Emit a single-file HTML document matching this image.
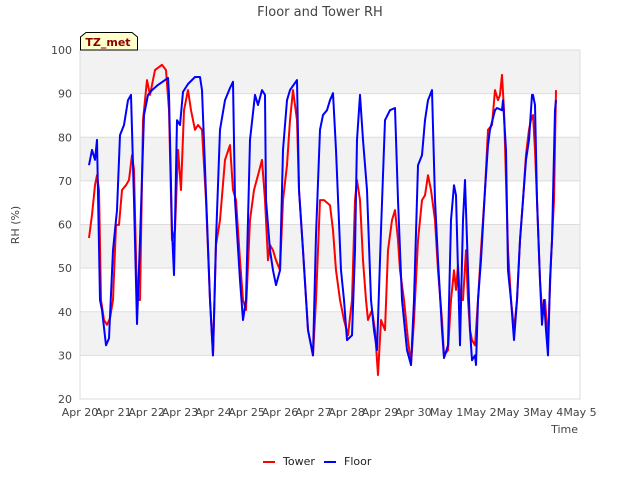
<!DOCTYPE html>
<html><head><meta charset="utf-8">
<style>
body{margin:0;background:#fff;}
svg{display:block;font-family:"DejaVu Sans","Liberation Sans",sans-serif;}
</style></head>
<body>
<svg id="chart" width="640" height="480" viewBox="0 0 640 480">
  <text x="320" y="16" text-anchor="middle" font-size="13" fill="#444">Floor and Tower RH</text>
  <g id="bands"></g>
  <rect x="80" y="50" width="500" height="349" fill="none" stroke="#ddd"/>
  <g id="yaxis"></g>
  <g id="xaxis"></g>
  <g id="series"></g>
  <text transform="translate(19,225) rotate(-90)" text-anchor="middle" font-size="11" fill="#444">RH (%)</text>
  <text x="578" y="433" text-anchor="end" font-size="11" fill="#444">Time</text>
  <g>
    <path d="M80.5,50 L80.5,37 L86,32.5 L132,32.5 L137.5,37 L137.5,50 Z" fill="#ffffcc" stroke="#000" stroke-width="1"/>
    <text x="108" y="46" text-anchor="middle" font-size="11" font-weight="bold" fill="#8b0000">TZ_met</text>
  </g>
  <g>
    <line x1="263" y1="462" x2="275" y2="462" stroke="#f00" stroke-width="2"/>
    <text x="283" y="465" font-size="11" fill="#222">Tower</text>
    <line x1="324" y1="462" x2="336" y2="462" stroke="#00f" stroke-width="2"/>
    <text x="344" y="465" font-size="11" fill="#222">Floor</text>
  </g>
</svg>
<script>
const xTickLabels=["Apr 20","Apr 21","Apr 22","Apr 23","Apr 24","Apr 25","Apr 26","Apr 27","Apr 28","Apr 29","Apr 30","May 1","May 2","May 3","May 4","May 5"];
const yTicks=[20,30,40,50,60,70,80,90,100];
const floorT=[0.27,0.36,0.45,0.51,0.6,0.66,0.78,0.87,0.99,1.11,1.2,1.32,1.44,1.53,1.62,1.71,1.8,1.92,2.04,2.16,2.34,2.55,2.64,2.67,2.76,2.82,2.91,3.0,3.09,3.24,3.45,3.6,3.66,3.81,3.9,3.99,4.08,4.2,4.35,4.5,4.59,4.65,4.8,4.89,4.98,5.1,5.25,5.34,5.46,5.55,5.58,5.7,5.79,5.88,6.0,6.09,6.21,6.3,6.51,6.57,6.69,6.84,6.99,7.08,7.2,7.29,7.41,7.5,7.59,7.68,7.83,7.92,8.01,8.16,8.25,8.31,8.4,8.49,8.61,8.73,8.82,8.91,9.03,9.15,9.3,9.45,9.54,9.66,9.81,9.93,10.02,10.14,10.26,10.35,10.44,10.56,10.65,10.74,10.86,10.92,11.04,11.13,11.22,11.28,11.34,11.4,11.49,11.55,11.64,11.7,11.76,11.85,11.88,11.94,12.03,12.15,12.24,12.3,12.39,12.45,12.51,12.66,12.69,12.78,12.84,12.93,13.02,13.11,13.2,13.29,13.38,13.47,13.56,13.59,13.65,13.71,13.8,13.86,13.92,13.98,14.04,14.1,14.16,14.25,14.28];
const floorRH=[73.6,77.1,74.8,79.4,42.7,40.4,32.3,33.9,54.1,63.3,80.5,82.8,88.5,89.7,65.6,37.2,56.4,85.1,89.7,90.8,92,93.1,93.6,89.7,58.7,48.4,83.9,82.8,90.4,92.2,93.8,93.8,90.8,61,42.7,30,56.4,81.7,88.5,91.3,92.7,65.6,47.2,38.1,42.7,79.4,89.7,87.4,90.8,89.7,65.6,54.1,49.5,46.1,49.5,77.1,88.5,90.8,93.1,67.9,54.1,35.8,30,57.6,81.7,85.1,86.2,88.5,90.1,77.1,49.5,42.7,33.5,34.6,54.1,79.4,89.7,79.4,67.9,42.7,35.8,31.2,58.7,83.9,86.2,86.7,65.6,42.7,31.2,27.8,42.7,73.6,75.9,83.9,88.5,90.8,65.6,51.8,35.8,29.4,32.3,61,69,66.7,49.5,32.3,61,70.2,49.5,35.8,28.9,30,27.8,42.7,51.8,67.9,78.2,81.7,84.4,86.2,86.7,86.2,88.5,77.1,49.5,42.7,33.5,42.7,56.4,65.6,74.8,79.4,89.7,89.7,87.4,65.6,47.2,37,42.7,35.8,30,47.2,56.4,86.2,88.5];
const towerT=[0.27,0.36,0.45,0.51,0.57,0.63,0.72,0.81,0.9,0.99,1.08,1.17,1.26,1.38,1.47,1.56,1.62,1.71,1.8,1.89,2.01,2.1,2.25,2.46,2.58,2.67,2.76,2.85,2.94,3.03,3.12,3.24,3.33,3.45,3.54,3.66,3.78,3.9,3.99,4.08,4.2,4.35,4.5,4.59,4.68,4.8,4.89,4.98,5.1,5.22,5.34,5.46,5.55,5.64,5.7,5.79,5.88,6.0,6.09,6.21,6.3,6.39,6.51,6.57,6.69,6.84,6.99,7.08,7.2,7.32,7.5,7.59,7.68,7.8,7.92,8.04,8.16,8.25,8.31,8.4,8.49,8.58,8.64,8.76,8.85,8.94,9.03,9.15,9.24,9.36,9.45,9.54,9.6,9.72,9.84,9.93,10.02,10.14,10.26,10.35,10.44,10.53,10.65,10.74,10.86,10.92,11.04,11.13,11.22,11.28,11.34,11.4,11.49,11.58,11.64,11.7,11.76,11.85,11.94,12.03,12.15,12.24,12.36,12.45,12.54,12.6,12.66,12.72,12.84,12.93,13.02,13.11,13.2,13.29,13.38,13.47,13.53,13.59,13.65,13.71,13.8,13.86,13.95,14.04,14.13,14.22,14.28];
const towerRH=[56.9,62.2,69,71.3,67.9,42.7,38.1,37,38.5,42.7,59.9,59.9,67.9,69,70.2,75.9,72.5,42.7,42.7,83.9,93.1,89.7,95.4,96.6,95.4,86.2,56.4,58.7,77.1,67.9,86.2,90.8,86.2,81.7,82.8,81.7,65.6,42.7,30,55.3,61,74.8,78.2,67.9,65.6,51.8,42.7,40.4,61,67.9,71.3,74.8,65.6,51.8,55.3,54.1,51.8,49.5,65.6,73.6,83.9,90.8,83.9,67.9,54.1,35.8,30,42.7,65.6,65.6,64.4,58.7,49.5,42.7,38.1,34.6,42.7,65.6,70.2,65.6,51.8,42.7,38.1,40.4,35.8,25.5,38.1,35.8,54.1,61,63.3,56.4,49.5,42.7,33.5,27.8,38.1,56.4,65.6,66.7,71.3,67.9,61,49.5,38.1,30,31.2,42.7,49.5,45,50.7,42.7,42.7,54.1,42.7,35.8,33.5,32.3,42.7,54.1,67.9,81.7,82.8,90.8,88.5,89.7,94.3,86.2,54.1,42.7,35.8,42.7,56.4,65.6,76,81.7,84,85.1,77.1,65.6,47.2,40.4,42.7,33.5,51.8,65.6,90.8];

const NS="http://www.w3.org/2000/svg";
const X0=80,X1=580,Y0=399,Y1=50,TMAX=15,VMIN=20,VMAX=100;
function xs(t){return X0+(X1-X0)*t/TMAX;}
function ys(v){return Y0-(Y0-Y1)*(v-VMIN)/(VMAX-VMIN);}
function mk(tag,attrs,parent){const e=document.createElementNS(NS,tag);for(const k in attrs)e.setAttribute(k,attrs[k]);parent.appendChild(e);return e;}

const bands=document.getElementById('bands');
for(let i=0;i<yTicks.length-1;i++){
  const lo=yTicks[i],hi=yTicks[i+1];
  const shaded=(lo%20===10);
  const r=mk('rect',{x:X0,y:ys(hi),width:X1-X0,height:ys(lo)-ys(hi),fill:shaded?'#f2f2f2':'#fff'},bands);
  
  
}
const ya=document.getElementById('yaxis');
yTicks.forEach(v=>{
  const g=mk('line',{x1:X0,x2:X1,y1:ys(v),y2:ys(v),stroke:'#ddd','stroke-width':1},ya);
  
  
  const t=mk('text',{x:72,y:ys(v)+4,'text-anchor':'end','font-size':11,fill:'#444'},ya);
  t.textContent=v;
  
  
});
const xa=document.getElementById('xaxis');
xTickLabels.forEach((s,i)=>{
  const t=mk('text',{x:xs(i),y:416,'text-anchor':'middle','font-size':11,fill:'#444'},xa);
  t.textContent=s;
  
  
});
const sg=document.getElementById('series');
function line(T,V,color,name){
  const d=T.map((t,i)=>(i?'L':'M')+xs(t).toFixed(1)+','+ys(V[i]).toFixed(1)).join(' ');
  const p=mk('path',{d:d,fill:'none',stroke:color,'stroke-width':2,'stroke-linejoin':'round'},sg);
  
  
}
line(towerT,towerRH,'#f00','tower-line');
line(floorT,floorRH,'#00f','floor-line');
</script>
</body></html>
